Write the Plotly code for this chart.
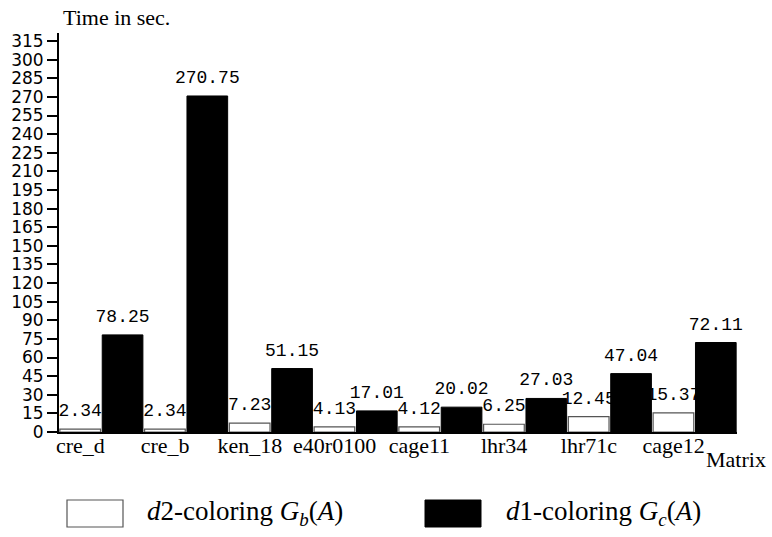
import numpy as np
import plotly.graph_objects as go

matrices = ["cre_d", "cre_b", "ken_18", "e40r0100", "cage11", "lhr34", "lhr71c", "cage12"]
d2_time = [2.34, 2.34, 7.23, 4.13, 4.12, 6.25, 12.45, 15.37]
d1_time = [78.25, 270.75, 51.15, 17.01, 20.02, 27.03, 47.04, 72.11]
y_ticks = list(range(0, 316, 15))

idx = np.arange(len(matrices))

fig = go.Figure()
fig.add_trace(go.Bar(
    x=idx, y=d2_time, name="d2",
    marker=dict(color="white", line=dict(color="#555555", width=1.2)),
    hoverinfo="skip", showlegend=False,
))
fig.add_trace(go.Bar(
    x=idx, y=d1_time, name="d1",
    marker=dict(color="black", line=dict(color="black", width=1)),
    hoverinfo="skip", showlegend=False,
))

label_font = dict(family="Liberation Mono, DejaVu Sans Mono, monospace", size=18, color="black")
for off, vals in ((-0.25, d2_time), (0.25, d1_time)):
    fig.add_trace(go.Scatter(
        x=idx + off, y=vals, mode="markers+text",
        text=[f"{v:.2f}" for v in vals], textposition="top center",
        textfont=label_font,
        marker=dict(size=12, color="rgba(0,0,0,0)"),
        hoverinfo="skip", showlegend=False, cliponaxis=False,
    ))

W, H = 772, 537
ml, mt = 59, 33
mr = W - 737
mb = H - 432
pw, ph = W - ml - mr, H - mt - mb


def px(x):
    return (x - ml) / pw


def py(y):
    return (H - mb - y) / ph


serif = "Liberation Serif, Times New Roman, serif"
fig.update_layout(
    width=W, height=H,
    margin=dict(l=ml, r=mr, t=mt, b=mb, autoexpand=False),
    paper_bgcolor="white", plot_bgcolor="white",
    barmode="group", bargap=0.0, bargroupgap=0.04,
    xaxis=dict(
        range=[-0.5, len(matrices) - 0.5], automargin=False,
        tickmode="array", tickvals=idx, ticktext=matrices,
        ticklabelshift=-21, ticklabelstandoff=-7,
        ticks="", showgrid=False, zeroline=False,
        showline=True, linecolor="black", linewidth=2,
        tickfont=dict(family=serif, size=22, color="black"),
    ),
    yaxis=dict(
        range=[0, 321.5], automargin=False,
        tickmode="array", tickvals=y_ticks,
        ticktext=[str(t) for t in y_ticks],
        ticks="outside", ticklen=10, tickwidth=1.5, tickcolor="black",
        showgrid=False, zeroline=False,
        showline=True, linecolor="black", linewidth=2,
        tickfont=dict(family="DejaVu Sans, sans-serif", size=17, color="black"),
    ),
    shapes=[
        dict(type="rect", xref="paper", yref="paper",
             x0=px(67), x1=px(123), y0=py(500), y1=py(527),
             fillcolor="white", line=dict(color="#555555", width=1.2)),
        dict(type="rect", xref="paper", yref="paper",
             x0=px(425), x1=px(481), y0=py(500), y1=py(527),
             fillcolor="black", line=dict(color="black", width=1)),
    ],
    annotations=[
        dict(text="Time in sec.", xref="paper", yref="paper",
             x=px(61), y=py(18), xanchor="left", yanchor="middle",
             showarrow=False, font=dict(family=serif, size=22, color="black")),
        dict(text="Matrix", xref="paper", yref="paper",
             x=px(704), y=py(459), xanchor="left", yanchor="middle",
             showarrow=False, font=dict(family=serif, size=22, color="black")),
        dict(text="<i>d</i>2-coloring <i>G</i><sub><i>b</i></sub>(<i>A</i>)",
             xref="paper", yref="paper", x=px(145), y=py(513),
             xanchor="left", yanchor="middle", showarrow=False,
             font=dict(family=serif, size=27, color="black")),
        dict(text="<i>d</i>1-coloring <i>G</i><sub><i>c</i></sub>(<i>A</i>)",
             xref="paper", yref="paper", x=px(504), y=py(513),
             xanchor="left", yanchor="middle", showarrow=False,
             font=dict(family=serif, size=27, color="black")),
    ],
)

# remove the browser's default 8px body margin so the figure sits at (0, 0)
fig.write_html("out.html", config={"displayModeBar": False},
               post_script="document.body.style.margin='0';")
